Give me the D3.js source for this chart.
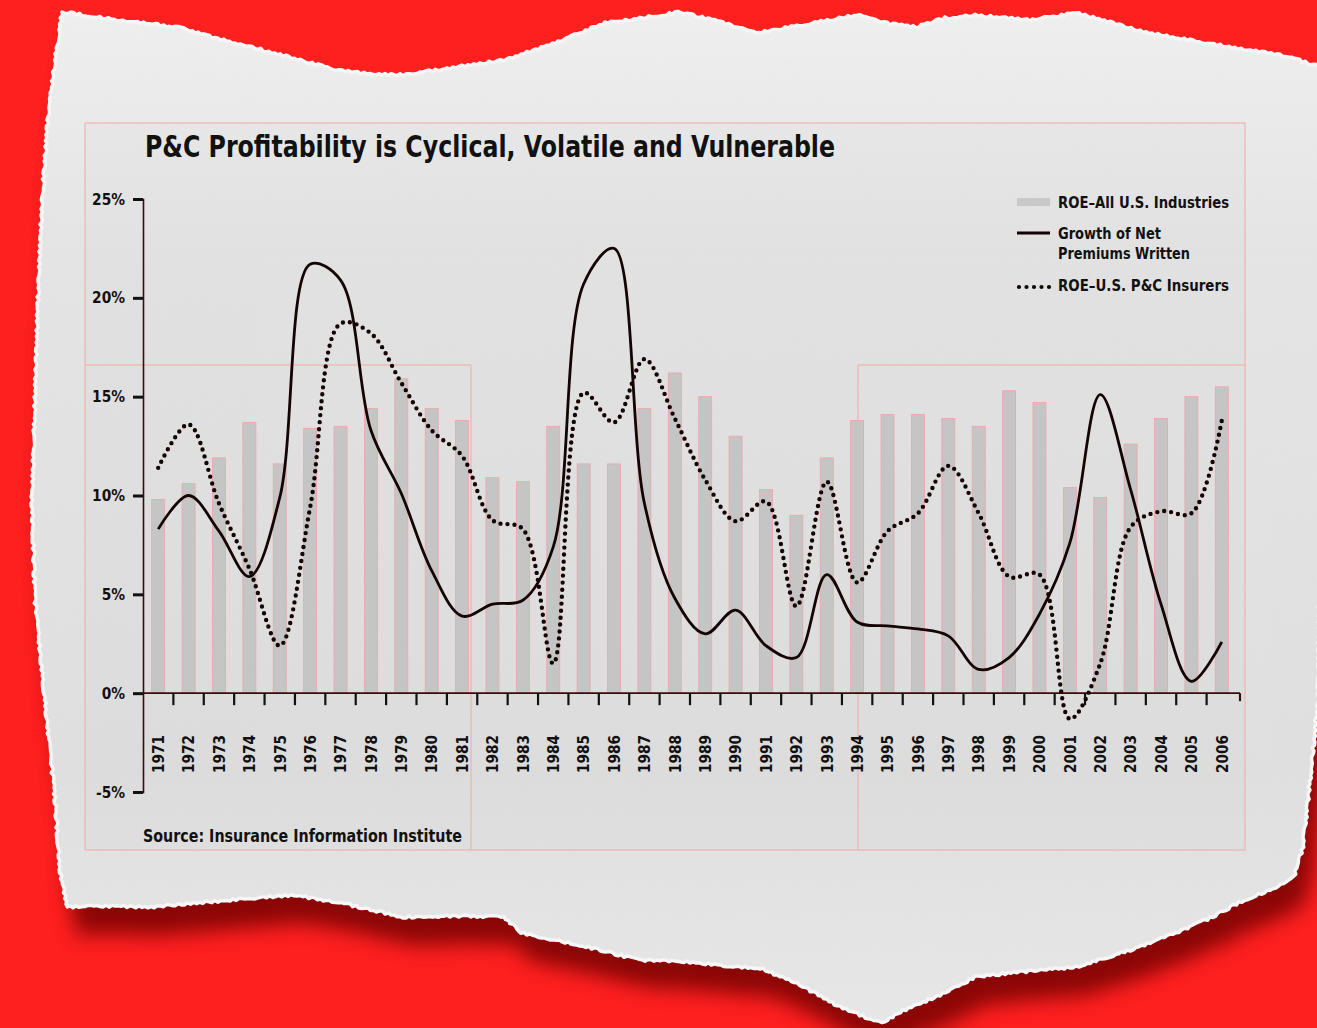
<!DOCTYPE html>
<html>
<head>
<meta charset="utf-8">
<script src="https://cdn.jsdelivr.net/npm/d3@7"></script>
<style>
html, body { margin: 0; padding: 0; background: #fe1f1f; overflow: hidden; }
svg { display: block; }
text { font-family: "DejaVu Sans", "Liberation Sans", sans-serif; font-weight: bold; fill: #111; }
</style>
</head>
<body>
<div id="chart"></div>
<script>
// Data (percent)
var years = [1971, 1972, 1973, 1974, 1975, 1976, 1977, 1978, 1979, 1980, 1981, 1982,
             1983, 1984, 1985, 1986, 1987, 1988, 1989, 1990, 1991, 1992, 1993, 1994,
             1995, 1996, 1997, 1998, 1999, 2000, 2001, 2002, 2003, 2004, 2005, 2006];

// ROE - All U.S. Industries (bars)
var roeAll = [9.8, 10.6, 11.9, 13.7, 11.6, 13.4, 13.5, 14.4, 15.9, 14.4, 13.8, 10.9,
              10.7, 13.5, 11.6, 11.6, 14.4, 16.2, 15.0, 13.0, 10.3, 9.0, 11.9, 13.8,
              14.1, 14.1, 13.9, 13.5, 15.3, 14.7, 10.4, 9.9, 12.6, 13.9, 15.0, 15.5];

// Growth of Net Premiums Written (solid line)
var npwGrowth = [8.3, 10.0, 8.2, 5.9, 9.9, 21.7, 20.9, 13.3, 10.1, 6.2, 3.9, 4.5,
                 4.7, 7.4, 20.7, 22.5, 9.6, 4.8, 3.0, 4.2, 2.4, 1.8, 6.0, 3.6,
                 3.4, 3.25, 2.9, 1.2, 1.8, 4.0, 7.6, 15.1, 10.3, 4.5, 0.6, 2.6];

// ROE - U.S. P&C Insurers (dotted line)
var roePC = [11.4, 13.6, 9.6, 6.3, 2.4, 9.4, 18.7, 18.2, 15.7, 13.3, 12.0, 8.75,
             8.3, 1.5, 15.2, 13.7, 16.9, 13.9, 10.8, 8.7, 9.7, 4.4, 10.7, 5.6,
             8.2, 9.1, 11.5, 9.1, 5.9, 6.0, -1.3, 1.5, 8.4, 9.2, 9.1, 13.8];

var yTicks = [-5, 0, 5, 10, 15, 20, 25];

var W = 1317, H = 1028;
var ink = "#140404";
var axisColor = "#3a0c0c";
var guide = "#eeaaaa";

var svg = d3.select("#chart").append("svg")
    .attr("width", W)
    .attr("height", H);

var defs = svg.append("defs");

// soft shadow below the torn paper
var shadow = defs.append("filter").attr("id", "shadow")
    .attr("x", "-10%").attr("y", "-10%").attr("width", "130%").attr("height", "130%");
shadow.append("feGaussianBlur").attr("stdDeviation", 10);

// paper grain
var grain = defs.append("filter").attr("id", "grain");
grain.append("feTurbulence").attr("type", "fractalNoise")
    .attr("baseFrequency", 0.9).attr("numOctaves", 2).attr("seed", 3);
grain.append("feColorMatrix").attr("type", "matrix")
    .attr("values", "0 0 0 0 0.5  0 0 0 0 0.5  0 0 0 0 0.5  0 0 0 0.35 0");

var paperGrad = defs.append("linearGradient").attr("id", "paperGrad")
    .attr("x1", 0).attr("y1", 0).attr("x2", 0).attr("y2", 1);
paperGrad.append("stop").attr("offset", "0%").attr("stop-color", "#f1f1f1");
paperGrad.append("stop").attr("offset", "25%").attr("stop-color", "#e6e6e6");
paperGrad.append("stop").attr("offset", "75%").attr("stop-color", "#e1e1e1");
paperGrad.append("stop").attr("offset", "100%").attr("stop-color", "#e9e9e9");

// outline of the torn sheet
var outline = [[62,12],[120,20],[181,28],[215,38],[252,47],[300,60],[336,70],[370,74],
    [403,75],[450,68],[504,60],[550,45],[605,23],[640,18],[681,12],[720,22],[756,33],
    [800,25],[857,15],[890,24],[916,27],[945,18],[975,15],[1030,20],[1076,13],[1110,22],
    [1143,32],[1190,40],[1235,48],[1280,55],[1322,67],[1322,400],[1318,700],[1306,820],
    [1303,847],[1294,877],[1270,890],[1244,900],[1210,918],[1176,933],[1130,950],[1076,967],
    [1020,972],[975,977],[940,995],[900,1012],[882,1023],[860,1015],[840,1007],[800,985],
    [760,968],[739,967],[690,962],[639,960],[580,945],[521,933],[504,917],[450,916],
    [403,917],[350,905],[294,895],[230,900],[151,907],[100,906],[67,907],[60,870],
    [55,800],[45,700],[35,600],[32,500],[35,400],[38,300],[42,200],[48,120],[55,60]];

function jagged(points, step, amp) {
    var out = [], k = 0;
    for (var i = 0; i < points.length; i++) {
        var a = points[i], b = points[(i + 1) % points.length];
        var dx = b[0] - a[0], dy = b[1] - a[1], len = Math.hypot(dx, dy);
        var n = Math.max(1, Math.round(len / step));
        var nx = -dy / len, ny = dx / len;
        for (var j = 0; j < n; j++) {
            var t = j / n;
            var o = amp * Math.sin(k * 12.9898 + Math.sin(k * 78.233) * 43.7);
            k++;
            out.push([a[0] + dx * t + nx * o, a[1] + dy * t + ny * o]);
        }
    }
    return out;
}
var paperPath = d3.line()(jagged(outline, 3, 1.1)) + "Z";

defs.append("clipPath").attr("id", "paperClip")
    .append("path").attr("d", paperPath);

svg.append("path")
    .attr("d", paperPath)
    .attr("fill", "#6e0000")
    .attr("opacity", 0.8)
    .attr("transform", "translate(10,28)")
    .attr("filter", "url(#shadow)");

svg.append("path")
    .attr("d", paperPath)
    .attr("fill", "url(#paperGrad)")
    .attr("stroke", "#f8f8f8")
    .attr("stroke-width", 3.5)
    .attr("stroke-linejoin", "round");

svg.append("rect")
    .attr("width", W).attr("height", H)
    .attr("clip-path", "url(#paperClip)")
    .attr("filter", "url(#grain)")
    .attr("opacity", 0.22);

// chart panel and layout guides
var panel = {x: 85, y: 123, w: 1160, h: 727};
svg.append("rect")
    .attr("x", panel.x).attr("y", panel.y)
    .attr("width", panel.w).attr("height", panel.h)
    .attr("fill", "rgba(0,0,0,0.012)")
    .attr("stroke", guide)
    .attr("stroke-width", 1);

svg.append("path")
    .attr("d", "M85,365H471V850M858,850V365H1245")
    .attr("fill", "none")
    .attr("stroke", guide)
    .attr("stroke-width", 1);

// scales
var x = d3.scalePoint().domain(years).range([143, 1237]).padding(0.5);
var y = d3.scaleLinear().domain([-5, 25]).range([792, 199]);
var barW = 13;

var g = svg.append("g");

// bars
g.selectAll("rect.bar")
    .data(years.map(function(yr, i) { return {year: yr, v: roeAll[i]}; }))
    .enter().append("rect")
    .attr("class", "bar")
    .attr("x", function(d) { return x(d.year) - barW / 2; })
    .attr("y", function(d) { return y(d.v); })
    .attr("width", barW)
    .attr("height", function(d) { return y(0) - y(d.v); })
    .attr("fill", "#c5c5c5")
    .attr("stroke", "#eba6a6")
    .attr("stroke-width", 0.8);

// y axis
var yAxis = g.append("g")
    .attr("transform", "translate(143,0)")
    .call(d3.axisLeft(y).tickValues(yTicks).tickSize(10).tickPadding(8)
        .tickFormat(function(d) { return d + "%"; }));
yAxis.select(".domain").attr("stroke", axisColor).attr("stroke-width", 1.6);
yAxis.selectAll(".tick line").attr("stroke", "#111").attr("stroke-width", 3);
yAxis.selectAll(".tick text")
    .style("font-family", "'DejaVu Sans', sans-serif")
    .style("font-weight", "bold")
    .style("font-size", "16px")
    .attr("fill", "#111")
    .each(function() {
        var t = d3.select(this);
        t.attr("textLength", this.getComputedTextLength() * 0.86)
         .attr("lengthAdjust", "spacingAndGlyphs");
    });

// x axis line at 0 with ticks between years
var y0 = y(0);
g.append("line")
    .attr("x1", 143).attr("x2", 1240)
    .attr("y1", y0).attr("y2", y0)
    .attr("stroke", axisColor).attr("stroke-width", 1.6);

var bounds = years.slice(1).map(function(yr) { return (x(yr - 1) + x(yr)) / 2; });
bounds.push(1240);
g.selectAll("line.xtick")
    .data(bounds)
    .enter().append("line")
    .attr("class", "xtick")
    .attr("x1", function(d) { return d; })
    .attr("x2", function(d) { return d; })
    .attr("y1", y0)
    .attr("y2", function(d, i) { return i === bounds.length - 1 ? y0 + 8 : y0 + 12; })
    .attr("stroke", function(d, i) { return i === bounds.length - 1 ? axisColor : "#111"; })
    .attr("stroke-width", 2.2);

g.selectAll("text.year")
    .data(years)
    .enter().append("text")
    .attr("class", "year")
    .attr("transform", function(d) { return "translate(" + x(d) + ",773) rotate(-90)"; })
    .attr("dy", "0.36em")
    .attr("text-anchor", "start")
    .style("font-size", "16px")
    .attr("textLength", 38)
    .attr("lengthAdjust", "spacingAndGlyphs")
    .text(function(d) { return d; });

// lines
var line = d3.line()
    .x(function(d) { return x(d.year); })
    .y(function(d) { return y(d.v); })
    .curve(d3.curveCatmullRom.alpha(0.5));

g.append("path")
    .datum(years.map(function(yr, i) { return {year: yr, v: npwGrowth[i]}; }))
    .attr("d", line)
    .attr("fill", "none")
    .attr("stroke", ink)
    .attr("stroke-width", 2.8)
    .attr("stroke-linejoin", "round");

g.append("path")
    .datum(years.map(function(yr, i) { return {year: yr, v: roePC[i]}; }))
    .attr("d", line)
    .attr("fill", "none")
    .attr("stroke", ink)
    .attr("stroke-width", 4.4)
    .attr("stroke-linecap", "round")
    .attr("stroke-dasharray", "0 7");

// title
svg.append("text")
    .attr("x", 145).attr("y", 157)
    .style("font-size", "30px")
    .attr("textLength", 690)
    .attr("lengthAdjust", "spacingAndGlyphs")
    .text("P&C Profitability is Cyclical, Volatile and Vulnerable");

// legend
var lg = svg.append("g");
lg.append("rect")
    .attr("x", 1017).attr("y", 198).attr("width", 33).attr("height", 8)
    .attr("fill", "#c8c8c8");
lg.append("line")
    .attr("x1", 1017).attr("x2", 1050).attr("y1", 233).attr("y2", 233)
    .attr("stroke", ink).attr("stroke-width", 3);
lg.append("line")
    .attr("x1", 1019).attr("x2", 1050).attr("y1", 287).attr("y2", 287)
    .attr("stroke", ink).attr("stroke-width", 4.2)
    .attr("stroke-linecap", "round").attr("stroke-dasharray", "0 7.5");

var legendTexts = [
    {t: "ROE\u2013All U.S. Industries", y: 208, w: 171},
    {t: "Growth of Net", y: 239, w: 103},
    {t: "Premiums Written", y: 259, w: 132},
    {t: "ROE\u2013U.S. P&C Insurers", y: 291, w: 171}
];
lg.selectAll("text")
    .data(legendTexts)
    .enter().append("text")
    .attr("x", 1058)
    .attr("y", function(d) { return d.y; })
    .style("font-size", "16px")
    .attr("textLength", function(d) { return d.w; })
    .attr("lengthAdjust", "spacingAndGlyphs")
    .text(function(d) { return d.t; });

// source
svg.append("text")
    .attr("x", 143).attr("y", 842)
    .style("font-size", "17px")
    .attr("textLength", 319)
    .attr("lengthAdjust", "spacingAndGlyphs")
    .text("Source: Insurance Information Institute");
</script>
</body>
</html>
